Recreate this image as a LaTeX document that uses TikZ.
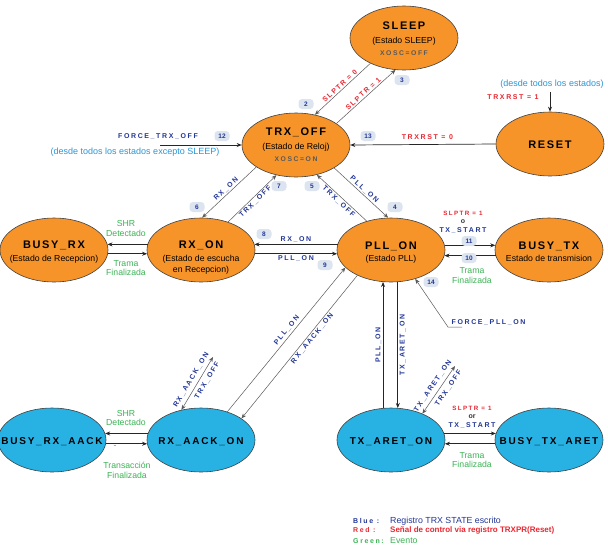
\documentclass[tikz,border=0pt]{standalone}
\usepackage{fontspec}
\setmainfont{Liberation Sans}
\newfontfamily\lsA[LetterSpace=15]{Liberation Sans}
\newfontfamily\lsB[LetterSpace=23]{Liberation Sans}
\newfontfamily\lsC[LetterSpace=18]{Liberation Sans}
\usetikzlibrary{shapes.geometric,arrows.meta}
\definecolor{stO}{RGB}{246,148,42}
\definecolor{stC}{RGB}{40,178,228}
\definecolor{lblue}{RGB}{35,55,150}
\definecolor{lred}{RGB}{232,40,50}
\definecolor{lgreen}{RGB}{60,180,85}
\definecolor{lcyan}{RGB}{40,150,215}
\definecolor{badgeF}{RGB}{220,228,240}
\begin{document}
\begin{tikzpicture}[x=1pt,y=-1pt,
 stateO/.style={ellipse, draw=black!75, line width=0.6pt, fill=stO, minimum width=108pt, minimum height=64pt, inner sep=0pt},
 stateC/.style={stateO, fill=stC},
 ttl/.style={anchor=base, inner sep=0pt, font=\lsA\bfseries\fontsize{11}{13}\selectfont},
 ttlB/.style={anchor=base, inner sep=0pt, font=\lsC\bfseries\fontsize{10}{12}\selectfont},
 sub/.style={anchor=base, inner sep=0pt, font=\fontsize{8.7}{10}\selectfont},
 xosc/.style={anchor=base, inner sep=0pt, text=black!65, font=\lsB\bfseries\fontsize{6.8}{8}\selectfont},
 conn/.style={line width=0.7pt, draw=black!85, -{Stealth[length=5pt,width=4pt]}},
 dconn/.style={line width=0.5pt, draw=black!65, -{Stealth[length=5pt,width=4pt]}},
 dboth/.style={line width=0.5pt, draw=black!65, {Stealth[length=5pt,width=4pt]}-{Stealth[length=5pt,width=4pt]}},
 elab/.style={font=\lsB\bfseries\fontsize{7}{8}\selectfont, text=lblue, inner sep=1.5pt},
 rlab/.style={font=\lsB\bfseries\fontsize{7}{8}\selectfont, text=lred, inner sep=1.5pt},
 rlabS/.style={font=\lsB\bfseries\fontsize{6.2}{7}\selectfont, text=lred, inner sep=1.5pt},
 olab/.style={font=\bfseries\fontsize{7}{8}\selectfont, text=black!80, inner sep=0pt},
 glab/.style={font=\fontsize{8.7}{9.5}\selectfont, text=lgreen, align=center, inner sep=0pt},
 clab/.style={font=\fontsize{9}{10}\selectfont, text=lcyan, inner sep=0pt},
 badge/.style={fill=badgeF, rounded corners=3.5pt, minimum width=15pt, minimum height=10pt, inner sep=0.5pt, text=lblue, font=\bfseries\fontsize{6.5}{7}\selectfont},
 legk/.style={anchor=west, inner sep=0pt, font=\lsB\bfseries\fontsize{7}{8}\selectfont},
 legd/.style={anchor=west, inner sep=0pt, font=\fontsize{8.8}{10}\selectfont},
]
\path[use as bounding box, fill=white] (0,0) rectangle (608,547);

% states
\node[stateO] (sleep) at (404,38) {};
\node[stateO] (trxoff) at (296,145) {};
\node[stateO] (reset) at (550,144) {};
\node[stateO] (busyrx) at (54,250) {};
\node[stateO] (rxon) at (201,250) {};
\node[stateO] (pllon) at (391,250) {};
\node[stateO] (busytx) at (549,250) {};
\node[stateC] (busyrxaack) at (52,440) {};
\node[stateC] (rxaackon) at (201,440) {};
\node[stateC] (txareton) at (391,440) {};
\node[stateC] (busytxaret) at (549,440) {};

% state texts
\node[ttl] (sleepT) at (404,29) {SLEEP};
\node[sub] (sleepS) at (404,43) {(Estado SLEEP)};
\node[xosc] (sleepX) at (404,55) {XOSC=OFF};
\node[ttl] (trxoffT) at (296,135) {TRX\_OFF};
\node[sub] (trxoffS) at (296,149) {(Estado de Reloj)};
\node[xosc] (trxoffX) at (296,161) {XOSC=ON};
\node[ttl] (resetT) at (550,148) {RESET};
\node[ttl] (busyrxT) at (54,248) {BUSY\_RX};
\node[sub] (busyrxS) at (54,261) {(Estado de Recepcion)};
\node[ttl] (rxonT) at (201,248) {RX\_ON};
\node[sub] (rxonS) at (201,261) {(Estado de escucha};
\node[sub] (rxonS2) at (201,272) {en Recepcion)};
\node[ttl] (pllonT) at (391,249) {PLL\_ON};
\node[sub] (pllonS) at (391,261) {(Estado PLL)};
\node[ttl] (busytxT) at (549,249) {BUSY\_TX};
\node[sub] (busytxS) at (549,261) {Estado de transmision};
\node[ttlB] (busyrxaackT) at (52,444) {BUSY\_RX\_AACK};
\node[ttlB] (rxaackonT) at (201,444) {RX\_AACK\_ON};
\node[ttlB] (txaretonT) at (391,444) {TX\_ARET\_ON};
\node[ttlB] (busytxaretT) at (549,444) {BUSY\_TX\_ARET};

% SLEEP <-> TRX_OFF
\draw[dconn] (sleep.-143) -- node[midway, sloped, above, rlab] {SLPTR = 0} (trxoff.58);
\draw[dconn] (trxoff.28) -- node[midway, sloped, above, rlab] {SLPTR = 1} (sleep.-105);

% FORCE_TRX_OFF
\coordinate (ftoff) at (160,145);
\draw[conn] (ftoff) -- (trxoff.west);
\node[elab] (ftoffL) at (158,136) {FORCE\_TRX\_OFF};
\node[clab] (ftoffD) at (135,152) {(desde todos los estados excepto SLEEP)};

% RESET
\draw[conn] (reset.west) -- node[pos=0.47, above=3pt, rlab] {TRXRST = 0} (trxoff.east);
\coordinate (rsfree) at (550,92);
\draw[conn] (rsfree) -- (reset.north);
\node[rlab] (trxrst1) at (513,97) {TRXRST = 1};
\node[clab] (desde2) at (552,84) {(desde todos los estados)};

% TRX_OFF <-> RX_ON
\draw[dconn] (trxoff.-151) -- node[midway, sloped, above, elab] {RX\_ON} (rxon.88);
\draw[dconn] (rxon.46) -- node[midway, sloped, below, elab] {TRX\_OFF} (trxoff.-123);
% TRX_OFF <-> PLL_ON
\draw[dconn] (pllon.130) -- node[midway, sloped, below, elab] {TRX\_OFF} (trxoff.-55);
\draw[dconn] (trxoff.-31) -- node[midway, sloped, above, elab] {PLL\_ON} (pllon.95);

% RX_ON <-> PLL_ON
\draw[conn] (pllon.174) -- node[midway, above, elab] {RX\_ON} (rxon.6);
\draw[conn] (rxon.-4) -- node[midway, below, elab] {PLL\_ON} (pllon.-176);

% BUSY_RX <-> RX_ON
\draw[conn] (rxon.174) -- (busyrx.6);
\draw[conn] (busyrx.-4) -- (rxon.-176);
\node[glab] (shr1) at (126,228.5) {SHR\\Detectado};
\node[glab] (trama1) at (126,268) {Trama\\Finalizada};

% PLL_ON <-> BUSY_TX
\draw[conn] (pllon.5) -- (busytx.175);
\draw[conn] (busytx.-174) -- (pllon.-6);
\node[rlabS] (slp1) at (463,213) {SLPTR = 1};
\node[olab] (o1) at (463,222) {o};
\node[elab] (txs1) at (463,230) {TX\_START};
\node[glab] (trama2) at (472,275.5) {Trama\\Finalizada};

% FORCE_PLL_ON
\coordinate (fpl1) at (462,327);
\coordinate (fpl2) at (448,327);
\draw[dconn] (fpl1) -- (fpl2) -- (pllon.-50);
\node[elab, anchor=west] (fplL) at (450,322) {FORCE\_PLL\_ON};

% PLL_ON <-> TX_ARET_ON
\draw[conn] (txareton.104) -- node[midway, rotate=90, anchor=south, elab] {PLL\_ON} (pllon.-104);
\draw[conn] (pllon.-78) -- node[midway, rotate=90, anchor=north, elab] {TX\_ARET\_ON} (txareton.78);

% PLL_ON <-> RX_AACK_ON
\draw[dconn] (rxaackon.47) -- node[pos=0.54, sloped, above=1pt, elab] {PLL\_ON} (pllon.-159);
\draw[dconn] (pllon.-143) -- node[pos=0.42, sloped, below, elab] {RX\_AACK\_ON} (rxaackon.28);

% short pairs
\coordinate (rafree) at (213,357);
\draw[dboth] (rxaackon.123) -- node[pos=0.5, sloped, above=2.5pt, elab] {RX\_AACK\_ON} node[pos=0.62, sloped, below=2.5pt, elab] {TRX\_OFF} (rafree);
\coordinate (tafree) at (455,366);
\draw[dboth] (txareton.40) -- node[pos=0.5, sloped, above=2.5pt, elab] {TX\_ARET\_ON} node[pos=0.62, sloped, below=2.5pt, elab] {TRX\_OFF} (tafree);

% bottom horizontals
\draw[conn] (rxaackon.173) -- (busyrxaack.7);
\draw[conn] (busyrxaack.-4) -- (rxaackon.-176);
\node[glab] (shr2) at (126,418) {SHR\\Detectado};
\node[glab] (dash) at (115,447) {-};
\node[glab] (trans) at (127,470.5) {Transacción\\Finalizada};
\draw[conn] (txareton.7) -- (busytxaret.173);
\draw[conn] (busytxaret.-176) -- (txareton.-4);
\node[rlabS] (slp2) at (472,408) {SLPTR = 1};
\node[olab] (or2) at (472,417) {or};
\node[elab] (txs2) at (472,425) {TX\_START};
\node[glab] (trama3) at (472,460) {Trama\\Finalizada};

% badges
\node[badge] (b2) at (306,104) {2};
\node[badge] (b3) at (402,80) {3};
\node[badge] (b12) at (222,136) {12};
\node[badge] (b13) at (368,136) {13};
\node[badge] (b6) at (197,207) {6};
\node[badge] (b7) at (279,186) {7};
\node[badge] (b5) at (312,186) {5};
\node[badge] (b4) at (395,207) {4};
\node[badge] (b8) at (264,234) {8};
\node[badge] (b9) at (325,265) {9};
\node[badge] (b11) at (469,241) {11};
\node[badge] (b10) at (469,258) {10};
\node[badge] (b14) at (431,282) {14};

% legend
\node[legk, text=lblue] (lgB) at (353,521) {Blue :};
\node[legk, text=lred] (lgR) at (353,530) {Red :};
\node[legk, text=lgreen] (lgG) at (353,541) {Green:};
\node[legd, text=lblue] (lgBd) at (390,521) {Registro TRX STATE escrito};
\node[legd, text=lred, font=\bfseries\fontsize{8}{10}\selectfont] (lgRd) at (390,530) {Señal de control via registro TRXPR(Reset)};
\node[legd, text=lgreen] (lgGd) at (390,541) {Evento};
\end{tikzpicture}
\end{document}
